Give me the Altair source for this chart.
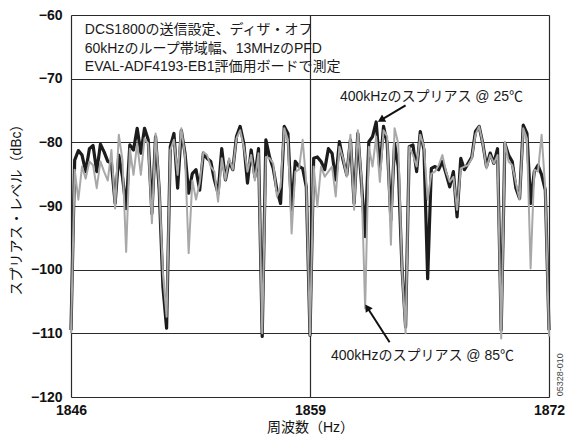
import altair as alt
import pandas as pd

# channel grid (MHz axis labelled Hz in the original)
freq_start = 1846.0
freq_step = 0.2
n_points = 131
freqs = [round(freq_start + freq_step * i, 1) for i in range(n_points)]

spur_25c = [
    -109.5, -82.8, -81.3, -82.0, -84.6, -81.0, -80.5, -84.6, -80.3, -81.5,
    -83.0, -83.3, -89.6, -82.0, -85.4, -90.4, -80.4, -81.2, -77.8, -81.7,
    -77.8, -79.6, -91.2, -79.1, -87.5, -102.7, -109.2, -80.7, -78.6, -87.2,
    -78.1, -81.7, -88.0, -84.9, -84.3, -87.5, -81.7, -82.5, -83.0, -85.9,
    -88.0, -81.0, -85.9, -83.0, -84.3, -79.1, -77.5, -80.2, -86.4, -81.2,
    -85.4, -81.0, -110.5, -79.6, -82.3, -84.1, -87.5, -89.6, -77.5, -78.6,
    -90.6, -83.0, -83.8, -84.1, -87.0,
    -110.3, -82.5, -82.3, -83.0, -84.3, -81.0, -81.7, -85.9, -79.9, -82.8,
    -85.1, -79.6, -89.6, -78.6, -86.4, -94.8, -79.9, -79.1, -76.8, -84.3,
    -77.5, -80.2, -92.2, -80.2, -83.8, -99.5, -109.0, -80.7, -80.4, -84.6,
    -78.3, -81.2, -101.4, -84.1, -83.8, -84.3, -83.0, -84.9, -87.0, -84.6,
    -91.7, -82.5, -84.3, -83.3, -82.3, -78.3, -77.5, -80.2, -83.8, -81.7,
    -83.3, -81.0, -109.5, -80.2, -82.0, -83.0, -87.2, -88.8, -77.3, -78.6,
    -89.6, -84.6, -83.6, -85.1, -87.5, -109.5,
]

spur_85c = [
    -110.0, -84.3, -89.0, -83.8, -85.7, -83.0, -83.6, -87.2, -83.0, -84.6,
    -86.0, -81.2, -90.4, -78.8, -82.8, -97.2, -81.0, -85.1, -80.2, -85.1,
    -79.4, -80.2, -92.7, -78.6, -87.0, -100.6, -107.4, -81.2, -79.6, -85.1,
    -77.8, -82.0, -97.4, -86.0, -89.0, -86.4, -81.5, -82.0, -83.8, -84.6,
    -89.3, -82.5, -85.9, -82.5, -84.3, -79.4, -78.1, -80.7, -84.6, -82.0,
    -86.0, -81.7, -110.0, -82.3, -82.5, -83.3, -88.5, -87.0, -77.8, -79.6,
    -94.3, -84.6, -84.3, -79.6, -86.4,
    -110.3, -83.8, -90.1, -83.8, -85.4, -84.6, -83.8, -88.5, -80.7, -82.5,
    -85.4, -78.8, -90.6, -78.1, -85.9, -106.1, -80.7, -83.8, -79.1, -86.2,
    -78.1, -79.1, -96.1, -77.8, -80.2, -99.5, -110.0, -80.7, -82.0, -83.8,
    -78.8, -80.7, -89.0, -84.9, -84.6, -83.6, -82.0, -84.6, -86.2, -85.4,
    -90.6, -84.1, -83.8, -83.6, -82.5, -78.8, -77.5, -80.2, -84.1, -82.0,
    -83.3, -82.0, -110.8, -79.9, -83.0, -83.6, -86.4, -89.0, -77.8, -79.4,
    -99.8, -84.3, -84.6, -78.8, -87.5, -110.5,
]

x_ticks = [1846, 1859, 1872]
y_ticks = [-120, -110, -100, -90, -80, -70, -60]

note_lines = [
    "DCS1800の送信設定、ディザ・オフ",
    "60kHzのループ帯域幅、13MHzのPFD",
    "EVAL-ADF4193-EB1評価用ボードで測定",
]
note_x = [1846.75, 1846.75, 1846.75]
note_y = [-62.4, -65.4, -68.2]

ann_text = ["400kHzのスプリアス @ 25℃", "400kHzのスプリアス @ 85℃"]
ann_x = [1860.63, 1860.14]
ann_y = [-72.9, -113.6]

arrow_tail_x = [1864.2, 1863.33]
arrow_tail_y = [-74.2, -111.4]
arrow_head_x = [1862.92, 1862.15]
arrow_head_y = [-76.4, -106.1]
arrow_angle = [239.4, 327.0]

FONT = "Liberation Sans, Noto Sans CJK JP"
GRID = "#2a2a2a"

df = pd.DataFrame({"f": freqs, "t25": spur_25c, "t85": spur_85c})

xs = alt.Scale(domain=[1846, 1872], nice=False, zero=False)
ys = alt.Scale(domain=[-120, -60], nice=False, zero=False)

x_axis = alt.Axis(
    values=x_ticks, title="周波数（Hz）", grid=True, gridColor=GRID, gridOpacity=1,
    gridWidth=1.2, ticks=False, domain=False,
    labelFlush=False, labelFontSize=14, labelFontWeight="bold", labelColor="#111",
    labelPadding=6, labelFont=FONT, titleFont=FONT, titleFontSize=14,
    titleFontWeight="normal", titleColor="#111", titlePadding=3, format="d",
)
y_axis = alt.Axis(
    values=y_ticks, title="スプリアス・レベル（dBc）", grid=True, gridColor=GRID,
    gridOpacity=1, gridWidth=1.2, ticks=False,
    domain=False, labelFontSize=14, labelFontWeight="bold", labelColor="#111",
    labelPadding=9, labelFont=FONT, titleFont=FONT, titleFontSize=14,
    titleFontWeight="normal", titleColor="#111", titlePadding=7,
    labelOverlap=False,
)

base = alt.Chart(df)
line25 = base.mark_line(color="#1c1c1c", strokeWidth=3.2, strokeJoin="round").encode(
    x=alt.X("f:Q", scale=xs, axis=x_axis),
    y=alt.Y("t25:Q", scale=ys, axis=y_axis),
)
line85 = base.mark_line(color="#a8a8a8", strokeWidth=2, strokeJoin="round").encode(
    x=alt.X("f:Q", scale=xs),
    y=alt.Y("t85:Q", scale=ys),
)

notes_df = pd.DataFrame({"x": note_x, "y": note_y, "t": note_lines})
notes = alt.Chart(notes_df).mark_text(
    align="left", baseline="middle", fontSize=14, font=FONT, color="#1a1a1a"
).encode(x=alt.X("x:Q", scale=xs), y=alt.Y("y:Q", scale=ys), text="t:N")

ann_df = pd.DataFrame({"x": ann_x, "y": ann_y, "t": ann_text})
anns = alt.Chart(ann_df).mark_text(
    align="left", baseline="middle", fontSize=14, font=FONT, color="#1a1a1a"
).encode(x=alt.X("x:Q", scale=xs), y=alt.Y("y:Q", scale=ys), text="t:N")

arr_df = pd.DataFrame({
    "x": arrow_tail_x, "y": arrow_tail_y,
    "x2": arrow_head_x, "y2": arrow_head_y, "a": arrow_angle,
})
arrow_lines = alt.Chart(arr_df).mark_rule(color="#111", strokeWidth=2).encode(
    x=alt.X("x:Q", scale=xs), y=alt.Y("y:Q", scale=ys), x2="x2:Q", y2="y2:Q"
)
arrow_heads = alt.Chart(arr_df).mark_point(
    shape="triangle", filled=True, color="#111", size=70, opacity=1
).encode(
    x=alt.X("x2:Q", scale=xs), y=alt.Y("y2:Q", scale=ys),
    angle=alt.Angle("a:Q", scale=None),
)

wm_df = pd.DataFrame({"x": [1872.6], "y": [-116.5], "t": ["05328-010"]})
watermark = alt.Chart(wm_df).mark_text(
    angle=270, fontSize=9, font=FONT, color="#444", align="center",
    baseline="middle", clip=False,
).encode(x=alt.X("x:Q", scale=xs), y=alt.Y("y:Q", scale=ys), text="t:N")

chart = alt.layer(
    line25, line85, arrow_lines, arrow_heads, notes, anns, watermark
).properties(
    width=478, height=382,
    autosize=alt.AutoSizeParams(type="none"),
    padding={"left": 63, "top": 7, "right": 17, "bottom": 37},
).configure_view(
    stroke="#111", strokeWidth=2
).configure(background="white")

chart.save("out.html", embed_options={"renderer": "svg", "actions": False})
